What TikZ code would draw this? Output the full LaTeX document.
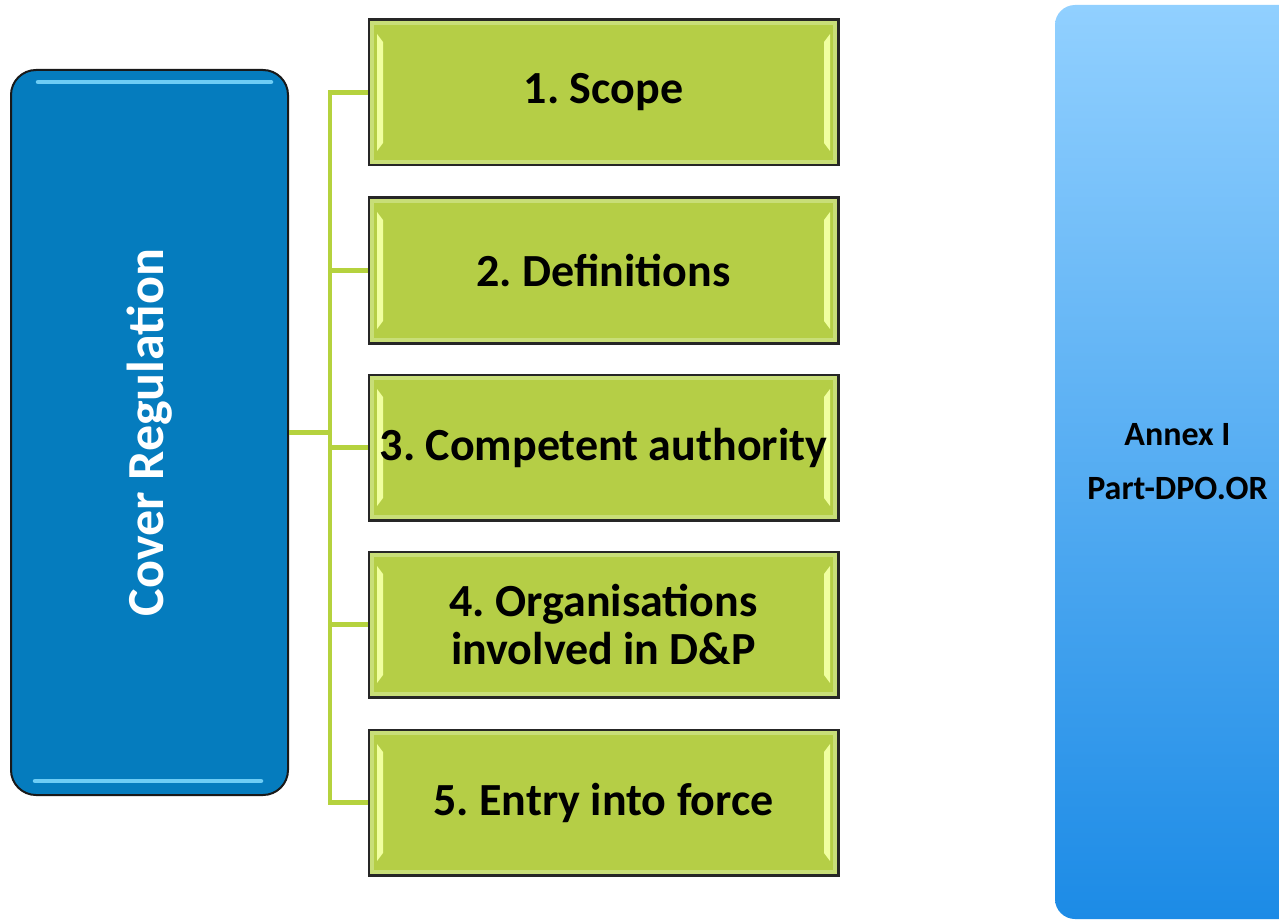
\documentclass[tikz,border=0pt]{standalone}
\usepackage{fontspec}
\setmainfont{Carlito}
\frenchspacing
\usetikzlibrary{calc}
\definecolor{cvblue}{RGB}{5,124,190}
\definecolor{cvhi}{RGB}{110,205,245}
\definecolor{grn}{RGB}{181,206,70}
\definecolor{grnrim}{RGB}{200,222,120}
\definecolor{grnyl}{RGB}{240,255,160}
\definecolor{conn}{RGB}{181,210,62}
\definecolor{anxtop}{RGB}{145,208,255}
\definecolor{anxbot}{RGB}{28,139,230}
\tikzset{
  gbox/.style={draw=black!85, line width=1.5pt, fill=grn, minimum width=469pt,
    minimum height=145pt, inner sep=0pt, align=center,
    font=\fontsize{46}{48}\selectfont\bfseries,
    path picture={
      \draw[grnrim, line width=4pt]
        ([xshift=3pt,yshift=-3pt]path picture bounding box.north west) rectangle
        ([xshift=-3pt,yshift=3pt]path picture bounding box.south east);
      \fill[grnyl]
        ([xshift=8pt,yshift=-14pt]path picture bounding box.north west) --
        ([xshift=14pt,yshift=-22pt]path picture bounding box.north west) --
        ([xshift=14pt,yshift=22pt]path picture bounding box.south west) --
        ([xshift=8pt,yshift=14pt]path picture bounding box.south west) -- cycle;
      \fill[grnyl]
        ([xshift=-8pt,yshift=-14pt]path picture bounding box.north east) --
        ([xshift=-14pt,yshift=-22pt]path picture bounding box.north east) --
        ([xshift=-14pt,yshift=22pt]path picture bounding box.south east) --
        ([xshift=-8pt,yshift=14pt]path picture bounding box.south east) -- cycle;
    }},
  cover/.style={draw=black!90, line width=2pt, fill=cvblue, rounded corners=25pt,
    minimum width=277pt, minimum height=725pt, inner sep=0pt},
  covertext/.style={text=white, rotate=90, font=\fontsize{52}{54}\selectfont\bfseries},
  annex/.style={shading=axis, top color=anxtop, bottom color=anxbot, rounded corners=20pt,
    minimum width=245pt, minimum height=914pt, inner sep=0pt, align=center,
    font=\fontsize{34}{54}\selectfont\bfseries},
  connector/.style={draw=conn, line width=4.5pt},
  hilite/.style={draw=cvhi, line width=4.5pt, line cap=round}
}
\begin{document}
\begin{tikzpicture}[x=1pt,y=-1pt]
\clip (0,0) rectangle (1279,920);
\fill[white] (0,0) rectangle (1279,920);
% cover regulation box
\node[cover] (cover) at (149.5,432.5) {};
\draw[hilite] ([xshift=28pt,yshift=-13pt]cover.north west) -- ([xshift=-18pt,yshift=-13pt]cover.north east);
\draw[hilite] ([xshift=25pt,yshift=15pt]cover.south west) -- ([xshift=-28pt,yshift=15pt]cover.south east);
\node[covertext] (covlabel) at (cover.center) {Cover Regulation};
% green boxes
\node[gbox] (b1) at (603.5,92.5) {1. Scope};
\node[gbox] (b2) at (603.5,270.5) {2. Definitions};
\node[gbox] (b3) at (603.5,447.5) {3. Competent authority};
\node[gbox] (b4) at (603.5,624.5) {4. Organisations\\involved in D\&P};
\node[gbox] (b5) at (603.5,802.5) {5. Entry into force};
% connectors
\coordinate (spine) at (330,432.5);
\draw[connector] (b1.west) -- (b1.west -| spine) -- (b5.west -| spine) -- (b5.west);
\draw[connector] (cover.east) -- (spine);
\draw[connector] (b2.west) -- (b2.west -| spine);
\draw[connector] (b3.west) -- (b3.west -| spine);
\draw[connector] (b4.west) -- (b4.west -| spine);
% redraw box borders over connector ends
\foreach \b in {b1,b2,b3,b4,b5}{\draw[black!85, line width=1.5pt] (\b.north west) rectangle (\b.south east);}
% annex box
\node[annex] (annex) at (1177.5,462) {Annex I\\Part-DPO.OR};
\end{tikzpicture}
\end{document}
